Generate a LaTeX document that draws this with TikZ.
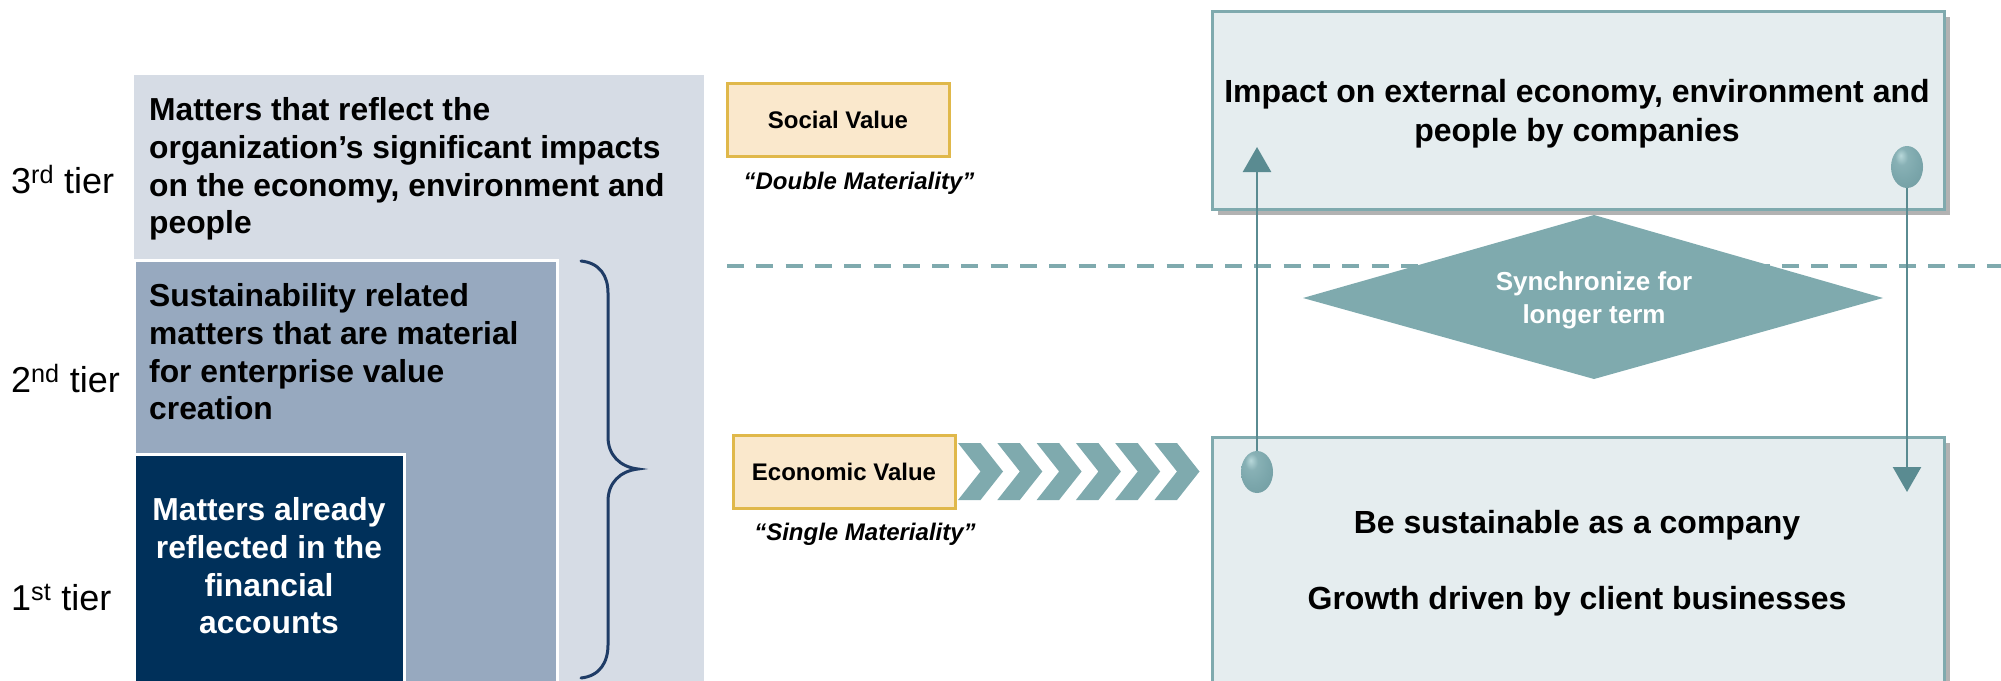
\documentclass[tikz,border=0pt]{standalone}
\usepackage{fontspec}
\setmainfont{Liberation Sans}
\usetikzlibrary{arrows.meta,shapes.geometric,shadows}
\definecolor{lightbox}{HTML}{D6DCE5}
\definecolor{midbox}{HTML}{97A9BF}
\definecolor{darkbox}{HTML}{00305A}
\definecolor{creamfill}{HTML}{FAE8CC}
\definecolor{golddraw}{HTML}{E0B84A}
\definecolor{paleteal}{HTML}{E5EDEF}
\definecolor{tealmid}{HTML}{7FAAAE}
\definecolor{tealdark}{HTML}{5A8B91}
\definecolor{ballhi}{HTML}{B8D8DA}
\definecolor{ballmid}{HTML}{7CA7AC}
\definecolor{balledge}{HTML}{4A767C}
\definecolor{bracecol}{HTML}{1F3C66}
\pgfdeclareradialshading{tealball}{\pgfpoint{-10bp}{14bp}}{%
  color(0bp)=(ballhi); color(10bp)=(ballmid!80!ballhi); color(24bp)=(ballmid);
  color(40bp)=(ballmid!80!balledge); color(52bp)=(balledge); color(80bp)=(balledge)}
\begin{document}
\begin{tikzpicture}[x=1pt,y=-1pt,
  tierbox/.style={anchor=north west,inner sep=0,outer sep=0},
  lefttext/.style={font=\bfseries\fontsize{31.8}{37.6}\selectfont,align=left,inner sep=0},
  tierlabel/.style={font=\fontsize{36}{40}\selectfont,anchor=base west,inner sep=0},
  valuebox/.style={fill=creamfill,draw=golddraw,line width=3,inner sep=0,
    font=\bfseries\fontsize{24}{28}\selectfont},
  materiality/.style={font=\bfseries\itshape\fontsize{24}{28}\selectfont,inner sep=0},
  rbox/.style={anchor=north west,fill=paleteal,draw=tealmid,line width=2.5,inner sep=0,
    drop shadow={shadow xshift=6pt,shadow yshift=-6pt,fill=black,opacity=0.3}},
  rtext/.style={font=\bfseries\fontsize{32}{39}\selectfont,align=center,inner sep=0},
  bullet/.style={ellipse,minimum width=32,minimum height=42,inner sep=0,shading=tealball},
  arrowline/.style={draw=tealdark,line width=2.5,-{Triangle[length=25pt,width=28pt]}},
  dashline/.style={draw=tealmid,line width=4.5,dash pattern=on 17pt off 12.3pt},
  chevron/.style={fill=tealmid},
  bracestyle/.style={draw=bracecol,line width=3,line cap=round}
]
\useasboundingbox (0,0) rectangle (2001,680);
\clip (0,0) rectangle (2001,680);

% left tier boxes
\node[tierbox,fill=lightbox,minimum width=570,minimum height=620] (t3box) at (134,75) {};
\node[tierbox,fill=midbox,draw=white,line width=3,minimum width=423,minimum height=440] (t2box) at (134,260) {};
\node[tierbox,fill=darkbox,draw=white,line width=3,minimum width=270,minimum height=250] (t1box) at (134,454) {};

\node[lefttext,anchor=west] (t3text) at (149,169) {Matters that reflect the\\organization’s significant impacts\\on the economy, environment and\\people};
\node[lefttext,anchor=west] (t2text) at (149,352) {Sustainability related\\matters that are material\\for enterprise value\\creation};
\node[lefttext,align=center,text=white] (t1text) at (269,566) {Matters already\\reflected in the\\financial\\accounts};

\node[tierlabel] (l3) at (11,193) {3\textsuperscript{rd} tier};
\node[tierlabel] (l2) at (11,392) {2\textsuperscript{nd} tier};
\node[tierlabel] (l1) at (11,610) {1\textsuperscript{st} tier};

% brace
\draw[bracestyle] (581,261) .. controls (600,263) and (608,276) .. (608,293) -- (608,437)
  .. controls (608,455) and (620,467) .. (638,469)
  .. controls (620,471) and (608,483) .. (608,501) -- (608,645)
  .. controls (608,662) and (600,676) .. (581,678);

% dashed separator
\coordinate (dashL) at (727,266);
\coordinate (dashR) at (2001,266);
\draw[dashline] (dashL) -- (dashR);

% value boxes
\node[valuebox,minimum width=222,minimum height=73] (social) at (838,119.5) {Social Value};
\node[materiality] (double) at (859,183) {“Double Materiality”};
\node[valuebox,minimum width=222,minimum height=73] (economic) at (844,471.5) {Economic Value};
\node[materiality] (single) at (865,534) {“Single Materiality”};

% chevrons
\foreach \i in {0,...,5}{
  \fill[chevron] ({958+39.3*\i},443) -- ({980.5+39.3*\i},443) -- ({1003+39.3*\i},471.5)
    -- ({980.5+39.3*\i},500) -- ({958+39.3*\i},500) -- ({980.5+39.3*\i},471.5) -- cycle;
}

% right boxes
\node[rbox,minimum width=732,minimum height=198] (topbox) at (1211,10) {};
\node[rtext] (toptext) at (1577,114) {Impact on external economy, environment and\\people by companies};
\node[rbox,minimum width=732,minimum height=270] (botbox) at (1211,436) {};
\node[rtext] (bottext) at (1577,563) {Be sustainable as a company\\[37.5pt]Growth driven by client businesses};

% diamond
\fill[tealmid] (1594,215) -- (1883,298) -- (1594,379) -- (1303,298) -- cycle;
\node[font=\bfseries\fontsize{26}{33}\selectfont,align=center,text=white,inner sep=0] (sync) at (1594,300) {Synchronize for\\longer term};

% arrows with bullets
\coordinate (ltip) at (1257,147);
\coordinate (rtip) at (1907,492);
\node[bullet] (lb) at (1257,472) {};
\node[bullet] (rb) at (1907,167) {};
\draw[arrowline] (lb.north) -- (ltip);
\draw[arrowline] (rb.south) -- (rtip);
\end{tikzpicture}
\end{document}
